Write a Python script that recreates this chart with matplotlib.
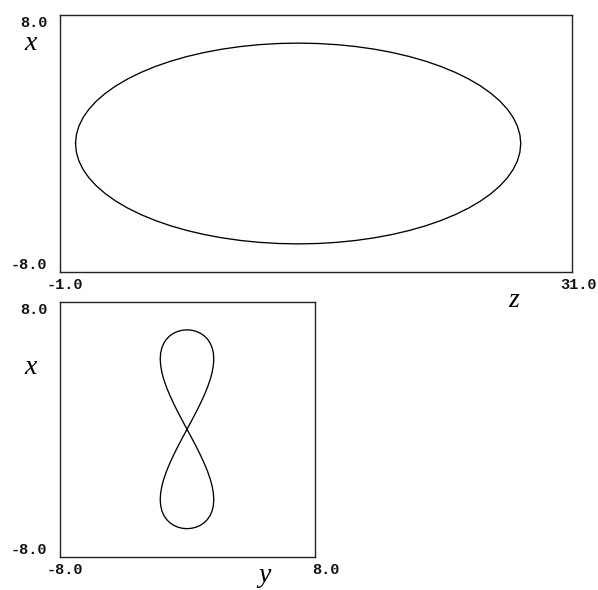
import matplotlib
matplotlib.use("Agg")
import matplotlib.pyplot as plt

# One closed orbit sampled every 5 degrees of phase (x, y, z coordinates)
orbit_x = [0.0, 0.545, 1.085, 1.618, 2.138, 2.641, 3.125, 3.585, 4.018, 4.419,
           4.788, 5.120, 5.413, 5.664, 5.873, 6.037, 6.155, 6.226, 6.25,
           6.226, 6.155, 6.037, 5.873, 5.664, 5.413, 5.120, 4.788, 4.419,
           4.018, 3.585, 3.125, 2.641, 2.138, 1.618, 1.085, 0.545, 0.0,
           -0.545, -1.085, -1.618, -2.138, -2.641, -3.125, -3.585, -4.018, -4.419,
           -4.788, -5.120, -5.413, -5.664, -5.873, -6.037, -6.155, -6.226, -6.25,
           -6.226, -6.155, -6.037, -5.873, -5.664, -5.413, -5.120, -4.788, -4.419,
           -4.018, -3.585, -3.125, -2.641, -2.138, -1.618, -1.085, -0.545, 0.0]
orbit_y = [0.0, 0.292, 0.575, 0.840, 1.080, 1.287, 1.455, 1.579, 1.654, 1.68,
           1.654, 1.579, 1.455, 1.287, 1.080, 0.840, 0.575, 0.292, 0.0,
           -0.292, -0.575, -0.840, -1.080, -1.287, -1.455, -1.579, -1.654, -1.68,
           -1.654, -1.579, -1.455, -1.287, -1.080, -0.840, -0.575, -0.292, 0.0,
           0.292, 0.575, 0.840, 1.080, 1.287, 1.455, 1.579, 1.654, 1.68,
           1.654, 1.579, 1.455, 1.287, 1.080, 0.840, 0.575, 0.292, 0.0,
           -0.292, -0.575, -0.840, -1.080, -1.287, -1.455, -1.579, -1.654, -1.68,
           -1.654, -1.579, -1.455, -1.287, -1.080, -0.840, -0.575, -0.292, 0.0]
orbit_z = [0.0, 0.053, 0.211, 0.474, 0.838, 1.302, 1.863, 2.513, 3.253, 4.071,
           4.965, 5.927, 6.95, 8.026, 9.146, 10.303, 11.487, 12.688, 13.9,
           15.112, 16.313, 17.497, 18.654, 19.774, 20.85, 21.873, 22.835, 23.729,
           24.547, 25.287, 25.937, 26.498, 26.962, 27.326, 27.589, 27.747, 27.8,
           27.747, 27.589, 27.326, 26.962, 26.498, 25.937, 25.287, 24.547, 23.729,
           22.835, 21.873, 20.85, 19.774, 18.654, 17.497, 16.313, 15.112, 13.9,
           12.688, 11.487, 10.303, 9.146, 8.026, 6.95, 5.927, 4.965, 4.071,
           3.253, 2.513, 1.863, 1.302, 0.838, 0.474, 0.211, 0.053, 0.0]

# Axis ranges and their printed end labels
xz_zlim = [-1.0, 31.0]
xz_xlim = [-8.0, 8.0]
xy_ylim = [-8.0, 8.0]
xy_xlim = [-8.0, 8.0]
top_hlabels = ["-1.0", "31.0"]
top_vlabels = ["-8.0", "8.0"]
bot_hlabels = ["-8.0", "8.0"]
bot_vlabels = ["-8.0", "8.0"]

W, H = 598, 590
fig = plt.figure(figsize=(W / 100, H / 100), dpi=100)
fig.patch.set_facecolor("white")


def box(l, t, r, b):
    return [l / W, (H - b) / H, (r - l) / W, (b - t) / H]


ax_top = fig.add_axes(box(59.5, 15, 572, 272))
ax_bot = fig.add_axes(box(59.5, 302, 314.5, 556.5))

tick_font = dict(family="Liberation Mono", fontweight="bold", fontsize=11, color="#111111")
label_font = dict(family="Liberation Serif", style="italic", fontsize=20, color="black")


def frame(ax, xlim, ylim, hlabels, vlabels, hname, vname, hname_xy, vname_xy):
    ax.set_xlim(xlim)
    ax.set_ylim(ylim)
    ax.set_xticks([])
    ax.set_yticks([])
    for s in ax.spines.values():
        s.set_linewidth(1.0)
        s.set_color("#222222")
    # vertical-axis end labels, right-aligned left of the frame
    ax.annotate(vlabels[1], xy=(0, 1), xycoords="axes fraction", xytext=(-12, -1),
                textcoords="offset pixels", ha="right", va="top", **tick_font)
    ax.annotate(vlabels[0], xy=(0, 0), xycoords="axes fraction", xytext=(-12, 0),
                textcoords="offset pixels", ha="right", va="bottom", **tick_font)
    # horizontal-axis end labels below the frame
    ax.annotate(hlabels[0], xy=(0, 0), xycoords="axes fraction", xytext=(24, -6),
                textcoords="offset pixels", ha="right", va="top", **tick_font)
    ax.annotate(hlabels[1], xy=(1, 0), xycoords="axes fraction", xytext=(25, -6),
                textcoords="offset pixels", ha="right", va="top", **tick_font)
    fig.text(hname_xy[0] / W, 1 - hname_xy[1] / H, hname, ha="center", va="center", **label_font)
    fig.text(vname_xy[0] / W, 1 - vname_xy[1] / H, vname, ha="center", va="center", **label_font)


ax_top.plot(orbit_z, orbit_x, color="black", linewidth=0.95)
frame(ax_top, xz_zlim, xz_xlim, top_hlabels, top_vlabels, "z", "x", (514, 301), (31, 44))

ax_bot.plot(orbit_y, orbit_x, color="black", linewidth=0.95)
frame(ax_bot, xy_ylim, xy_xlim, bot_hlabels, bot_vlabels, "y", "x", (265, 575), (31, 367))

fig.savefig("out.png", dpi=100, facecolor="white")
